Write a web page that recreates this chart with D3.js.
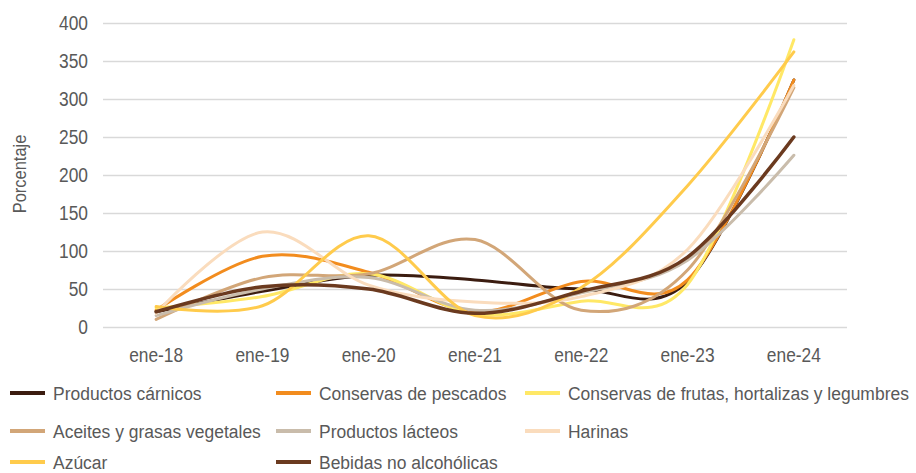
<!DOCTYPE html>
<html>
<head>
<meta charset="utf-8">
<script src="https://cdn.jsdelivr.net/npm/d3@7"></script>
<style>
  body { margin: 0; background: #fff; }
  text { font-family: "Liberation Sans Narrow", "Arial Narrow", "Liberation Sans", sans-serif; fill: #595959; }
</style>
</head>
<body>
<svg id="chart" width="916" height="473"></svg>
<script>
// categories (x axis)
const months = ["ene-18", "ene-19", "ene-20", "ene-21", "ene-22", "ene-23", "ene-24"];
const yTicks = [0, 50, 100, 150, 200, 250, 300, 350, 400];

// series
const carnicos   = [20, 47, 68, 62, 50, 60, 325];
const pescados   = [22, 93, 72, 20, 60, 62, 325];
const frutas     = [25, 40, 70, 17, 34, 56, 378];
const aceites    = [10, 65, 70, 115, 22, 75, 315];
const lacteos    = [15, 50, 65, 22, 45, 88, 226];
const harinas    = [18, 125, 55, 33, 40, 102, 318];
const azucar     = [27, 28, 120, 15, 52, 186, 362];
const bebidas    = [20, 53, 50, 18, 47, 92, 250];

const names = ["Productos cárnicos", "Conservas de pescados", "Conservas de frutas, hortalizas y legumbres",
  "Aceites y grasas vegetales", "Productos lácteos", "Harinas", "Azúcar", "Bebidas no alcohólicas"];
const values = [carnicos, pescados, frutas, aceites, lacteos, harinas, azucar, bebidas];
const colors = ["#3b1c10", "#f28c1e", "#ffe866", "#d2a678", "#c9bcab", "#fadcbd", "#ffcb4c", "#6b3a1f"];

const margin = { top: 23, right: 69, bottom: 146, left: 103 };
const width = 916 - margin.left - margin.right,
    height = 473 - margin.top - margin.bottom;

const narrow = 0.89; // squeeze text, no narrow font here

const svg = d3.select('#chart');
const g = svg.append('g')
    .attr('transform', 'translate(' + margin.left + ',' + margin.top + ')');

const x = d3.scalePoint()
    .domain(months)
    .range([0, width])
    .padding(0.5);

const y = d3.scaleLinear()
    .domain([0, 400])
    .range([304, 0]);

// gridlines
g.append('g')
    .selectAll('line')
    .data(yTicks)
    .enter().append('line')
    .attr('x1', 0)
    .attr('x2', width)
    .attr('y1', d => y(d) + 0.5)
    .attr('y2', d => y(d) + 0.5)
    .attr('stroke', '#d9d9d9')
    .attr('stroke-width', 1.3);

// y tick labels
g.append('g')
    .selectAll('g')
    .data(yTicks)
    .enter().append('g')
    .attr('transform', d => 'translate(-15,' + y(d) + ')')
    .append('text')
    .attr('transform', 'scale(' + narrow + ',1)')
    .attr('dy', '0.36em')
    .attr('text-anchor', 'end')
    .style('font-size', '19.5px')
    .text(d => d);

// x labels
g.append('g')
    .selectAll('g')
    .data(months)
    .enter().append('g')
    .attr('transform', d => 'translate(' + x(d) + ',339)')
    .append('text')
    .attr('transform', 'scale(' + narrow + ',1)')
    .attr('text-anchor', 'middle')
    .style('font-size', '19.5px')
    .text(d => d);

// axis title
svg.append('text')
    .attr('transform', 'translate(26,174) rotate(-90) scale(' + narrow + ',1)')
    .attr('text-anchor', 'middle')
    .style('font-size', '18.5px')
    .text('Porcentaje');

// lines
const line = d3.line()
    .x((d, i) => x(months[i]))
    .y(d => y(d))
    .curve(d3.curveCatmullRom.alpha(0));

g.append('g')
    .selectAll('path')
    .data(values)
    .enter().append('path')
    .attr('d', d => line(d))
    .attr('fill', 'none')
    .attr('stroke', (d, i) => colors[i])
    .attr('stroke-width', (d, i) => i === 7 ? 3.5 : 3)
    .attr('stroke-linecap', 'round');

// legend
const legX = [10, 276, 525];
const legY = [393, 431, 462];
const legend = svg.append('g')
    .selectAll('g')
    .data(names)
    .enter().append('g')
    .attr('transform', (d, i) => 'translate(' + legX[i % 3] + ',' + legY[Math.floor(i / 3)] + ')');

legend.append('line')
    .attr('x1', 0)
    .attr('x2', 35)
    .attr('stroke', (d, i) => colors[i])
    .attr('stroke-width', 4);

legend.append('text')
    .attr('transform', 'translate(43,0) scale(0.92,1)')
    .attr('dy', '0.36em')
    .style('font-size', '19px')
    .text(d => d);
</script>
</body>
</html>
